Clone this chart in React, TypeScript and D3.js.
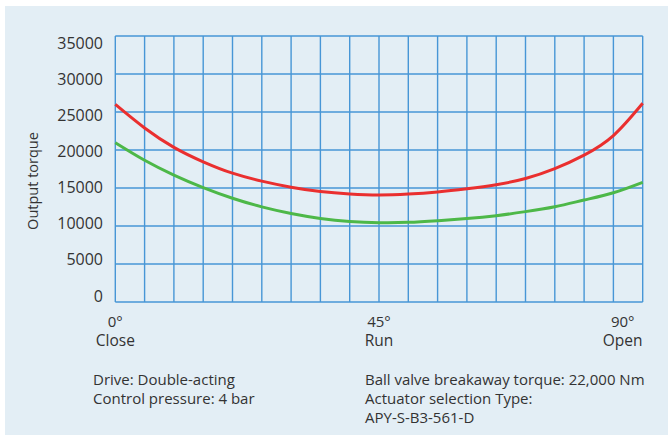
import React from "react";
import * as d3 from "d3";

const angles = [0, 5, 10, 15, 20, 25, 30, 35, 40, 45, 50, 55, 60, 65, 70, 75, 80, 85, 90];
const redTorque = [26000, 22900, 20350, 18450, 16950, 15900, 15100, 14530, 14210, 14080, 14200, 14480, 14900, 15430, 16250, 17550, 19330, 21900, 26150];
const greenTorque = [20960, 18650, 16700, 15050, 13650, 12520, 11650, 11000, 10600, 10440, 10480, 10700, 10980, 11360, 11890, 12540, 13420, 14380, 15750];
const yTicks = [0, 5000, 10000, 15000, 20000, 25000, 30000, 35000];
const xGrid = d3.range(0, 91, 5);
const xTickLabels = [
  { a: 0, deg: "0°", name: "Close" },
  { a: 45, deg: "45°", name: "Run" },
  { a: 90, deg: "90°", name: "Open" },
];
const notesLeft = ["Drive: Double-acting", "Control pressure: 4 bar"];
const notesRight = ["Ball valve breakaway torque: 22,000 Nm", "Actuator selection Type:", "APY-S-B3-561-D"];

export default function App() {
  const W = 668, H = 437;
  const x = d3.scaleLinear().domain([0, 90]).range([115.3, 642.7]);
  const y = d3.scaleLinear().domain([0, 35000]).range([302, 36]);
  const yLabel = d3.scaleLinear().domain([0, 35000]).range([296, 43]);
  const line = d3
    .line<number>()
    .x((_, i) => x(angles[i]))
    .y((d) => y(d))
    .curve(d3.curveNatural);
  const font = "'Open Sans', sans-serif";
  const txt = "#333333";
  const grid = "#4796d6";
  return (
    <svg width={W} height={H} style={{ position: "absolute", left: 0, top: 0 }} fontFamily={font}>
      <rect x={0} y={0} width={W} height={H} fill="#ffffff" />
      <rect x={5} y={6} width={W - 5} height={429} fill="#e3eef5" />
      {xGrid.map((a) => (
        <line key={"v" + a} x1={x(a)} x2={x(a)} y1={y(35000)} y2={y(0)} stroke={grid} strokeWidth={1.4} />
      ))}
      {yTicks.map((t) => (
        <line key={"h" + t} x1={x(0)} x2={x(90)} y1={y(t)} y2={y(t)} stroke={grid} strokeWidth={1.4} />
      ))}
      {yTicks.map((t) => (
        <text key={"yl" + t} x={103} y={yLabel(t)} dy="0.35em" textAnchor="end" fontSize={16} fill={txt}>
          {t}
        </text>
      ))}
      <text transform={`translate(38,181) rotate(-90)`} textAnchor="middle" fontSize={14.5} fill={txt}>
        Output torque
      </text>
      <path d={line(greenTorque) || ""} fill="none" stroke="#4db848" strokeWidth={3} />
      <path d={line(redTorque) || ""} fill="none" stroke="#ea2f2f" strokeWidth={3} />
      {xTickLabels.map((t) => {
        const cx = t.a === 90 ? x(t.a) - 20 : x(t.a);
        return (
          <g key={"xl" + t.a}>
            <text x={cx} y={327} textAnchor="middle" fontSize={15} fill={txt}>
              {t.deg}
            </text>
            <text x={cx} y={345.5} textAnchor="middle" fontSize={15.5} fill={txt}>
              {t.name}
            </text>
          </g>
        );
      })}
      {notesLeft.map((s, i) => (
        <text key={"nl" + i} x={93} y={384.5 + i * 19} fontSize={15} fill={txt}>
          {s}
        </text>
      ))}
      {notesRight.map((s, i) => (
        <text key={"nr" + i} x={365} y={384.5 + i * 19} fontSize={15} fill={txt}>
          {s}
        </text>
      ))}
    </svg>
  );
}
